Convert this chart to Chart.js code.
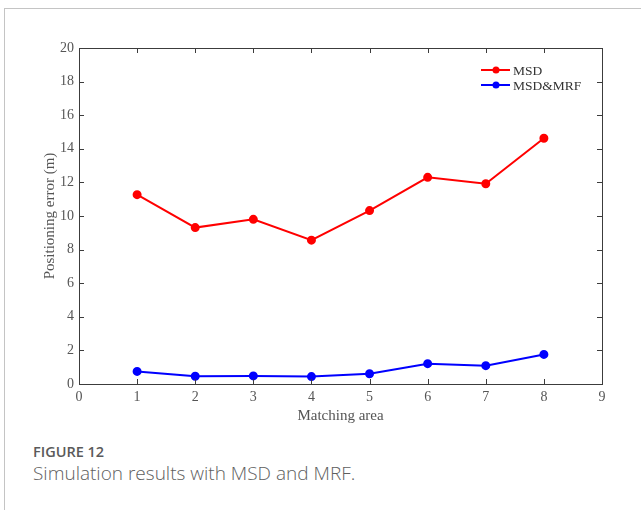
<!DOCTYPE html>
<html>
<head>
<meta charset="utf-8">
<script src="https://cdn.jsdelivr.net/npm/chart.js@4"></script>
<style>
    body { margin: 0; background: #fff; overflow: hidden; }
    #marco { position: absolute; left: 4px; top: 8px; width: 700px; height: 600px; border: 1px solid #c4c4c4; }
    #lienzo { position: absolute; left: 0; top: 0; }
    #fig { position: absolute; left: 33px; top: 442px; font-family: 'Open Sans', sans-serif; color: #5a5a5a; font-size: 14.5px; font-weight: 600; }
    #pie { position: absolute; left: 33px; top: 460px; font-family: 'Open Sans', sans-serif; color: #5e5e5e; font-size: 19px; font-weight: 300; }
</style>
</head>
<body>
<div id="marco"></div>
<canvas id="lienzo" width="641" height="430"></canvas>
<div id="fig">FIGURE 12</div>
<div id="pie">Simulation results with MSD and MRF.</div>
<script>

const areas = [1, 2, 3, 4, 5, 6, 7, 8];
const msd = [11.27, 9.31, 9.80, 8.56, 10.32, 12.30, 11.92, 14.63];
const msdMrf = [0.75, 0.46, 0.48, 0.44, 0.61, 1.21, 1.09, 1.76];
const xTicks = [0, 1, 2, 3, 4, 5, 6, 7, 8, 9];
const yTicks = [0, 2, 4, 6, 8, 10, 12, 14, 16, 18, 20];

const serif = "'Liberation Serif', serif";
const gris = '#555';

Chart.defaults.font.family = serif;
Chart.defaults.font.size = 14;
Chart.defaults.color = gris;

function puntos(valores) {
    return areas.map((a, i) => ({ x: a, y: valores[i] }));
}

// caja estilo matlab con ticks hacia adentro
const cajaPlugin = {
    id: 'caja',
    afterDatasetsDraw(chart) {
        const ctx = chart.ctx;
        const a = chart.chartArea;
        const sx = chart.scales.x;
        const sy = chart.scales.y;
        ctx.save();
        ctx.strokeStyle = '#3c3c3c';
        ctx.lineWidth = 1;
        ctx.beginPath();
        xTicks.forEach(v => {
            let px = Math.round(sx.getPixelForValue(v)) + 0.5;
            ctx.moveTo(px, a.bottom); ctx.lineTo(px, a.bottom - 5);
            ctx.moveTo(px, a.top); ctx.lineTo(px, a.top + 5);
        });
        yTicks.forEach(v => {
            let py = Math.round(sy.getPixelForValue(v)) + 0.5;
            ctx.moveTo(a.left, py); ctx.lineTo(a.left + 5, py);
            ctx.moveTo(a.right, py); ctx.lineTo(a.right - 5, py);
        });
        ctx.stroke();
        ctx.strokeRect(Math.round(a.left) + 0.5, Math.round(a.top) + 0.5,
            Math.round(a.right - a.left), Math.round(a.bottom - a.top));

        // leyenda
        const items = [
            { label: 'MSD', color: '#ff0000', y: 70 },
            { label: 'MSD&MRF', color: '#0000ff', y: 85 }
        ];
        ctx.font = '13.5px ' + serif;
        ctx.textBaseline = 'middle';
        items.forEach(it => {
            ctx.strokeStyle = it.color;
            ctx.fillStyle = it.color;
            ctx.lineWidth = 2;
            ctx.beginPath();
            ctx.moveTo(481, it.y); ctx.lineTo(510, it.y);
            ctx.stroke();
            ctx.beginPath();
            ctx.arc(496, it.y, 3.5, 0, Math.PI * 2);
            ctx.fill();
            ctx.fillStyle = '#333';
            ctx.fillText(it.label, 513, it.y + 1);
        });
        ctx.restore();
    }
};

new Chart('lienzo', {
    type: 'line',
    data: {
        datasets: [{
            label: 'MSD',
            data: puntos(msd),
            borderColor: '#ff0000',
            backgroundColor: '#ff0000',
            borderWidth: 2,
            pointRadius: 3.5,
            tension: 0
        }, {
            label: 'MSD&MRF',
            data: puntos(msdMrf),
            borderColor: '#0000ff',
            backgroundColor: '#0000ff',
            borderWidth: 2,
            pointRadius: 3.5,
            tension: 0
        }]
    },
    options: {
        responsive: false,
        animation: false,
        layout: { padding: { left: 30, right: 39, top: 48, bottom: 5 } },
        plugins: {
            legend: { display: false },
            tooltip: { enabled: false }
        },
        scales: {
            x: {
                type: 'linear',
                min: 0,
                max: 9,
                afterFit: s => { s.height = 41; },
                afterBuildTicks: s => { s.ticks = xTicks.map(v => ({ value: v })); },
                grid: { display: false, drawTicks: false },
                border: { display: false },
                ticks: { color: gris, padding: 5, font: { family: serif, size: 14 } },
                title: {
                    display: true,
                    text: 'Matching area',
                    color: gris,
                    padding: { top: 0, bottom: 0 },
                    font: { family: serif, size: 15 }
                }
            },
            y: {
                min: 0,
                max: 20,
                afterFit: s => { s.width = 49; },
                afterBuildTicks: s => { s.ticks = yTicks.map(v => ({ value: v })); },
                grid: { display: false, drawTicks: false },
                border: { display: false },
                ticks: { color: gris, padding: 5, font: { family: serif, size: 14 } },
                title: {
                    display: true,
                    text: 'Positioning error (m)',
                    color: gris,
                    padding: { top: 11, bottom: 0 },
                    font: { family: serif, size: 15 }
                }
            }
        }
    },
    plugins: [cajaPlugin]
});

</script>
</body>
</html>
